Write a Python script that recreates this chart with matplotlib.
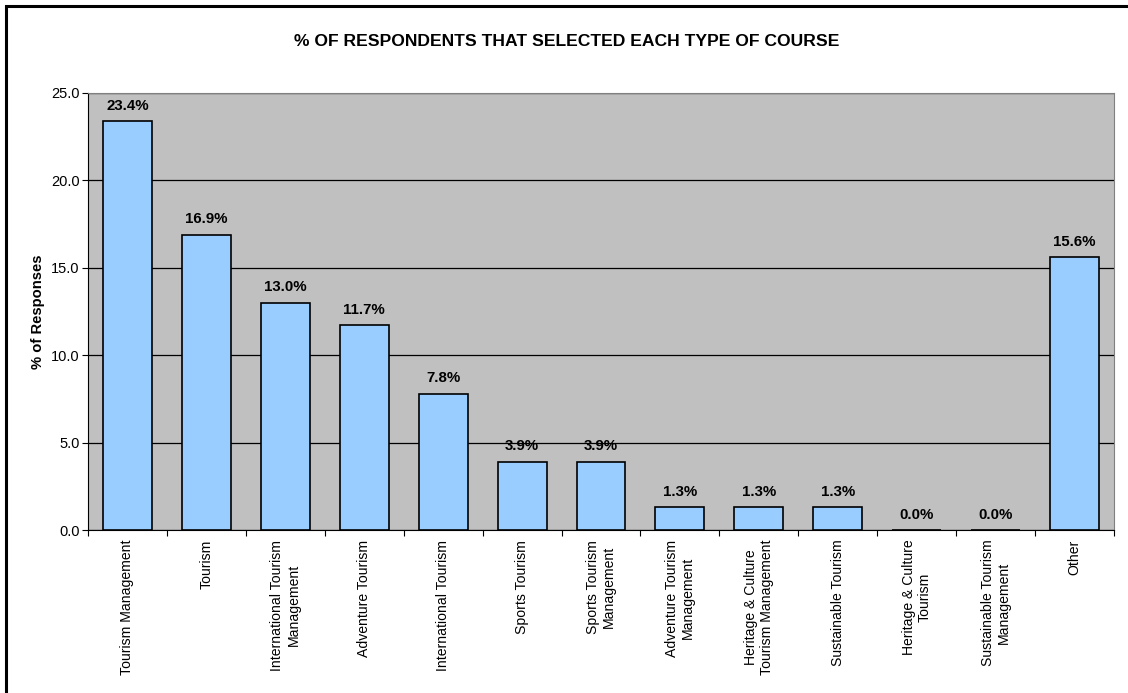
import matplotlib
matplotlib.use("Agg")
import matplotlib.pyplot as plt
from matplotlib.patches import Rectangle
import numpy as np

plt.rcParams['font.family'] = ['Liberation Sans', 'DejaVu Sans']

categories = [
    "Tourism Management",
    "Tourism",
    "International Tourism\nManagement",
    "Adventure Tourism",
    "International Tourism",
    "Sports Tourism",
    "Sports Tourism\nManagement",
    "Adventure Tourism\nManagement",
    "Heritage & Culture\nTourism Management",
    "Sustainable Tourism",
    "Heritage & Culture\nTourism",
    "Sustainable Tourism\nManagement",
    "Other",
]
values = [23.4, 16.9, 13.0, 11.7, 7.8, 3.9, 3.9, 1.3, 1.3, 1.3, 0.0, 0.0, 15.6]
yticks = [0, 5, 10, 15, 20, 25]

W, H = 1128, 693
fig = plt.figure(figsize=(W / 100, H / 100), dpi=100)
fig.patch.set_facecolor('white')

left, right, top, bottom = 88, 1114, 93, 530
ax = fig.add_axes([left / W, 1 - bottom / H, (right - left) / W, (bottom - top) / H])
ax.set_facecolor('#C0C0C0')

x = np.arange(len(categories))
ax.bar(x, values, width=0.62, color='#99CCFF', edgecolor='black', linewidth=1.2, zorder=3)

ax.set_xlim(-0.5, len(categories) - 0.5)
ax.set_ylim(0, 25)
ax.set_yticks(yticks)
ax.set_yticklabels([f"{v:.1f}" for v in yticks], fontsize=10.5)
ax.yaxis.grid(True, color='black', linewidth=0.9, zorder=1)
ax.set_axisbelow(True)

ax.set_xticks(np.arange(-0.5, len(categories), 1.0), minor=False)
ax.set_xticklabels([])
ax.set_xticks(x, minor=True)
ax.set_xticklabels(categories, minor=True, rotation=90, fontsize=10.1,
                   ha='center', va='top', multialignment='center', linespacing=1.2)
ax.tick_params(axis='x', which='minor', length=0, pad=7)
ax.tick_params(axis='x', which='major', length=4, direction='out', color='black')
ax.tick_params(axis='y', length=4, direction='out', color='black', pad=2)

for s in ['top', 'right']:
    ax.spines[s].set_color('#808080')
for s in ['left', 'bottom']:
    ax.spines[s].set_color('black')

for xi, v in zip(x, values):
    ax.annotate(f"{v:.1f}%", (xi, v), xytext=(0, 6), textcoords='offset points',
                ha='center', va='bottom', fontsize=10.8, fontweight='bold')

ax.set_ylabel("% of Responses", fontsize=10.6, fontweight='bold', labelpad=4)

fig.text(0.502, 1 - 41 / H, "% OF RESPONDENTS THAT SELECTED EACH TYPE OF COURSE",
         ha='center', va='center', fontsize=12.6, fontweight='bold')

fig.patches.append(Rectangle((6 / W, -0.1), 1.2, 1 - 6 / H + 0.1, transform=fig.transFigure,
                             fill=False, edgecolor='black', linewidth=2.2))

fig.savefig("out.png", dpi=100)
